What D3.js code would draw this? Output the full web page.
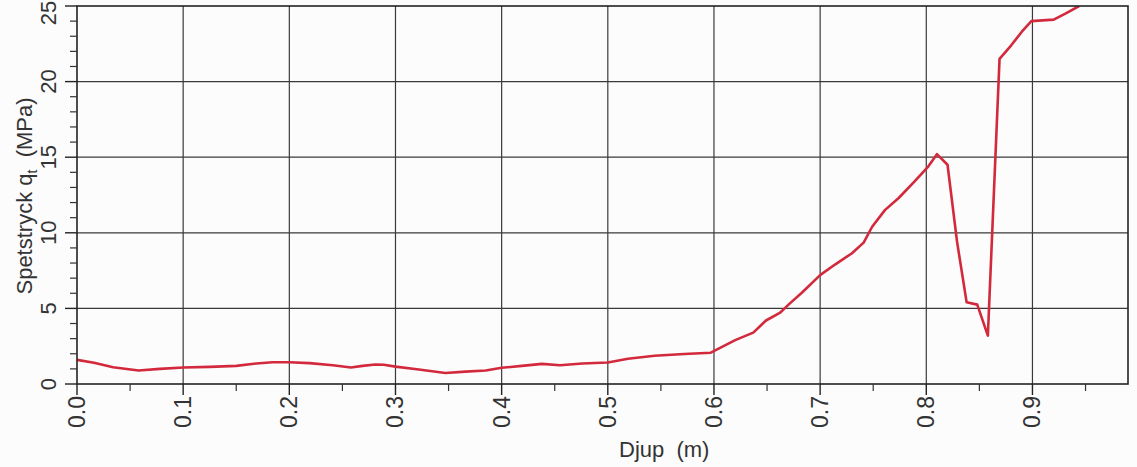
<!DOCTYPE html>
<html>
<head>
<meta charset="utf-8">
<script src="https://cdn.jsdelivr.net/npm/d3@7"></script>
<style>
  body { margin: 0; background: #fcfcfc; }
  svg { display: block; font-family: "Liberation Sans", Arial, sans-serif; }
</style>
</head>
<body>
<div id="chart"></div>
<script>
// depth (m) and cone resistance q_t (MPa)
const depth = [0.000, 0.016, 0.034, 0.058, 0.078, 0.100, 0.125, 0.150, 0.169, 0.184,
  0.200, 0.219, 0.241, 0.258, 0.269, 0.281, 0.289, 0.300, 0.322, 0.347,
  0.366, 0.385, 0.400, 0.419, 0.438, 0.455, 0.476, 0.500, 0.519, 0.544,
  0.572, 0.597, 0.603, 0.620, 0.637, 0.649, 0.662, 0.671, 0.683, 0.700,
  0.714, 0.730, 0.741, 0.749, 0.761, 0.774, 0.789, 0.802, 0.810, 0.820,
  0.829, 0.838, 0.848, 0.858, 0.869, 0.880, 0.890, 0.899, 0.920, 0.931, 0.944];
const qt = [1.60, 1.40, 1.11, 0.89, 1.00, 1.09, 1.13, 1.20, 1.36, 1.44,
  1.44, 1.38, 1.24, 1.09, 1.20, 1.29, 1.27, 1.15, 0.96, 0.73,
  0.82, 0.89, 1.07, 1.20, 1.33, 1.24, 1.36, 1.42, 1.67, 1.87,
  1.98, 2.07, 2.29, 2.90, 3.40, 4.20, 4.70, 5.30, 6.05, 7.20,
  7.90, 8.65, 9.35, 10.4, 11.5, 12.3, 13.4, 14.4, 15.2, 14.5,
  9.4, 5.4, 5.25, 3.2, 21.5, 22.4, 23.3, 24.0, 24.1, 24.5, 25.0];

const xTicks = [0.0, 0.1, 0.2, 0.3, 0.4, 0.5, 0.6, 0.7, 0.8, 0.9];
const xMinor = [0.05, 0.15, 0.25, 0.35, 0.45, 0.55, 0.65, 0.75, 0.85, 0.95];
const yTicks = [0, 5, 10, 15, 20, 25];
const yMinor = d3.range(0, 26).filter(v => v % 5 !== 0);

const width = 1137, height = 467;
const svg = d3.select('#chart').append('svg')
  .attr('width', width).attr('height', height);

const x = d3.scaleLinear().domain([0, 0.99]).range([77, 1128]);
const y = d3.scaleLinear().domain([0, 25]).range([384, 6]);

const gridColor = '#3a3a3a';

// grid
svg.append('g').selectAll('line').data(xTicks.slice(1)).enter().append('line')
  .attr('x1', d => x(d)).attr('x2', d => x(d))
  .attr('y1', y(0)).attr('y2', y(25))
  .attr('stroke', gridColor).attr('stroke-width', 1.2);
svg.append('g').selectAll('line').data(yTicks.slice(1, -1)).enter().append('line')
  .attr('x1', x(0)).attr('x2', x(0.99))
  .attr('y1', d => y(d)).attr('y2', d => y(d))
  .attr('stroke', gridColor).attr('stroke-width', 1.2);

// curve
svg.append('clipPath').attr('id', 'clip').append('rect')
  .attr('x', x(0)).attr('y', y(25))
  .attr('width', x(0.99) - x(0)).attr('height', y(0) - y(25));

const line = d3.line().x((d, i) => x(depth[i])).y(d => y(d));
svg.append('path').datum(qt)
  .attr('clip-path', 'url(#clip)')
  .attr('fill', 'none')
  .attr('stroke', '#d3293d')
  .attr('stroke-width', 2.6)
  .attr('stroke-linejoin', 'round')
  .attr('d', line);

// frame
svg.append('rect')
  .attr('x', x(0)).attr('y', y(25))
  .attr('width', x(0.99) - x(0)).attr('height', y(0) - y(25))
  .attr('fill', 'none').attr('stroke', '#222').attr('stroke-width', 1.6);

// x axis ticks
const xAxis = svg.append('g');
xAxis.selectAll('.maj').data(xTicks).enter().append('line')
  .attr('x1', d => x(d)).attr('x2', d => x(d))
  .attr('y1', y(0)).attr('y2', y(0) + 11)
  .attr('stroke', '#222').attr('stroke-width', 1.4);
xAxis.selectAll('.min').data(xMinor).enter().append('line')
  .attr('x1', d => x(d)).attr('x2', d => x(d))
  .attr('y1', y(0)).attr('y2', y(0) + 7)
  .attr('stroke', '#333').attr('stroke-width', 1.2);
xAxis.selectAll('text').data(xTicks).enter().append('text')
  .attr('transform', d => `translate(${x(d) + 8},${y(0) + 12}) rotate(-90)`)
  .attr('text-anchor', 'end')
  .attr('font-size', 23)
  .attr('fill', '#333')
  .text(d => d.toFixed(1));

// y axis ticks
const yAxis = svg.append('g');
yAxis.selectAll('.maj').data(yTicks).enter().append('line')
  .attr('x1', x(0) - 12).attr('x2', x(0))
  .attr('y1', d => y(d)).attr('y2', d => y(d))
  .attr('stroke', '#222').attr('stroke-width', 1.4);
yAxis.selectAll('.min').data(yMinor).enter().append('line')
  .attr('x1', x(0) - 7).attr('x2', x(0))
  .attr('y1', d => y(d)).attr('y2', d => y(d))
  .attr('stroke', '#333').attr('stroke-width', 1.2);
// top label would run off the page, keep it just inside
yAxis.selectAll('text').data(yTicks).enter().append('text')
  .attr('transform', d => `translate(56,${Math.max(y(d), 13)}) rotate(-90)`)
  .attr('text-anchor', 'middle')
  .attr('font-size', 22)
  .attr('fill', '#333')
  .text(d => d);

// axis titles
svg.append('text')
  .attr('x', 619).attr('y', 457)
  .attr('font-size', 22).attr('fill', '#333')
  .style('white-space', 'pre')
  .text('Djup  (m)');

const yTitle = svg.append('text')
  .attr('transform', 'translate(32,196) rotate(-90)')
  .attr('text-anchor', 'middle')
  .attr('font-size', 22).attr('fill', '#333')
  .style('white-space', 'pre');
yTitle.append('tspan').text('Spetstryck q');
yTitle.append('tspan').attr('font-size', 14).attr('dy', 5).text('t');
yTitle.append('tspan').attr('dy', -5).text('  (MPa)');
</script>
</body>
</html>
